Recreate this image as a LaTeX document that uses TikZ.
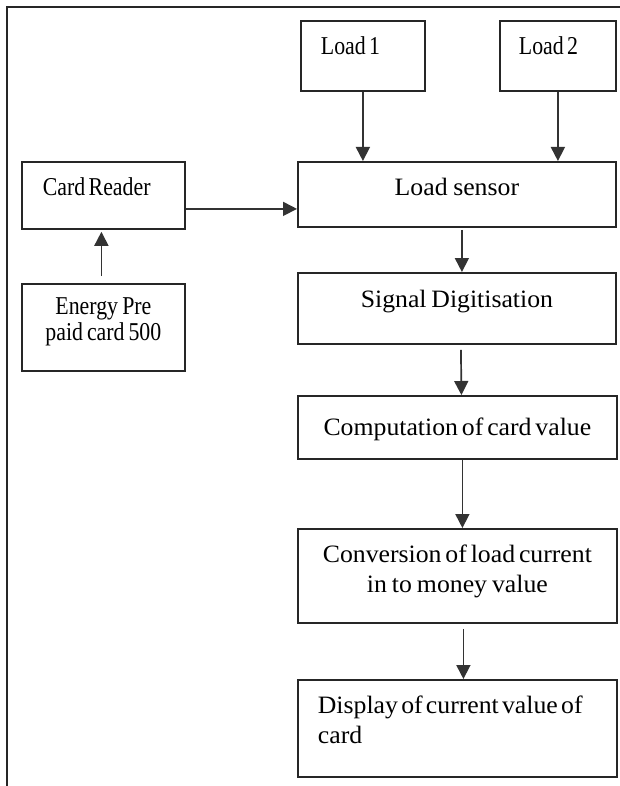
\documentclass[tikz,border=0pt]{standalone}
\usepackage{fontspec}
\setmainfont[FakeStretch=1.03]{Liberation Serif}
\newfontfamily\narrowfont[FakeStretch=0.85]{Liberation Serif}
\usetikzlibrary{arrows.meta}
\newcommand{\tightsp}{\spaceskip=0.13em plus 0.05em\relax}
\begin{document}
\begin{tikzpicture}[x=1pt, y=-1pt,
	blk/.style n args={3}{draw=black!85, line width=1.8pt, anchor=north west, inner ysep=0pt, inner xsep=0pt, align=center, text width=#1, text height=#2, text depth=#3, execute at begin node=\tightsp},
	lblk/.style={align=left, inner xsep=20pt},
	tnr/.style={font=\narrowfont\fontsize{25.7}{26}\selectfont},
	cmb/.style={font=\fontsize{25}{29.5}\selectfont},
	arr/.style={-{Triangle[width=14pt,length=14pt]}, line width=1.7pt, draw=black!80}]
	\useasboundingbox (0,0) rectangle (620,786);
	\draw[line width=1.8pt, black!85] (620,7) -| (7,786);
	\node[blk={84pt}{34pt}{36pt}, lblk, tnr] (load1) at (300,20) {Load 1};
	\node[blk={78pt}{34pt}{36pt}, lblk, inner xsep=19pt, tnr] (load2) at (499,20) {Load 2};
	\node[blk={121pt}{34pt}{33pt}, lblk, inner xsep=21pt, tnr] (reader) at (21,161) {Card Reader};
	\node[blk={163pt}{31pt}{56pt}, tnr] (prepaid) at (21,283) {Energy Pre\\paid card 500};
	\node[blk={318pt}{34pt}{31pt}, cmb] (sensor) at (297,161) {Load sensor};
	\node[blk={318pt}{35pt}{36pt}, cmb] (digit) at (297,272) {Signal Digitisation};
	\node[blk={319pt}{40pt}{23pt}, cmb] (comp) at (297,395) {Computation of card value};
	\node[blk={319pt}{34pt}{60pt}, cmb] (conv) at (297,528) {Conversion of load current\\in to money value};
	\node[blk={279pt}{34pt}{63pt}, lblk, cmb] (disp) at (297,679) {Display of current value of\\card};
	\draw[arr] (load1.south) -- (load1.south |- sensor.north);
	\draw[arr] (load2.south) -- (load2.south |- sensor.north);
	\draw[arr] ([yshift=-13.5pt]reader.east) -- ([yshift=-13.5pt]reader.east -| sensor.west);
	\draw[arr, shorten <=7pt, shorten >=2pt] ([xshift=-2pt]prepaid.north) -- ([xshift=-2pt]reader.south);
	\draw[arr, shorten <=2pt] ([xshift=5pt]sensor.south) -- ([xshift=5pt]digit.north);
	\draw[arr, shorten <=5pt] ([xshift=4pt]digit.south) -- ([xshift=4pt]comp.north);
	\draw[arr] ([xshift=5pt]comp.south) -- ([xshift=5pt]conv.north);
	\draw[arr, shorten <=5pt] ([xshift=6pt]conv.south) -- ([xshift=6pt]disp.north);
\end{tikzpicture}
\end{document}
